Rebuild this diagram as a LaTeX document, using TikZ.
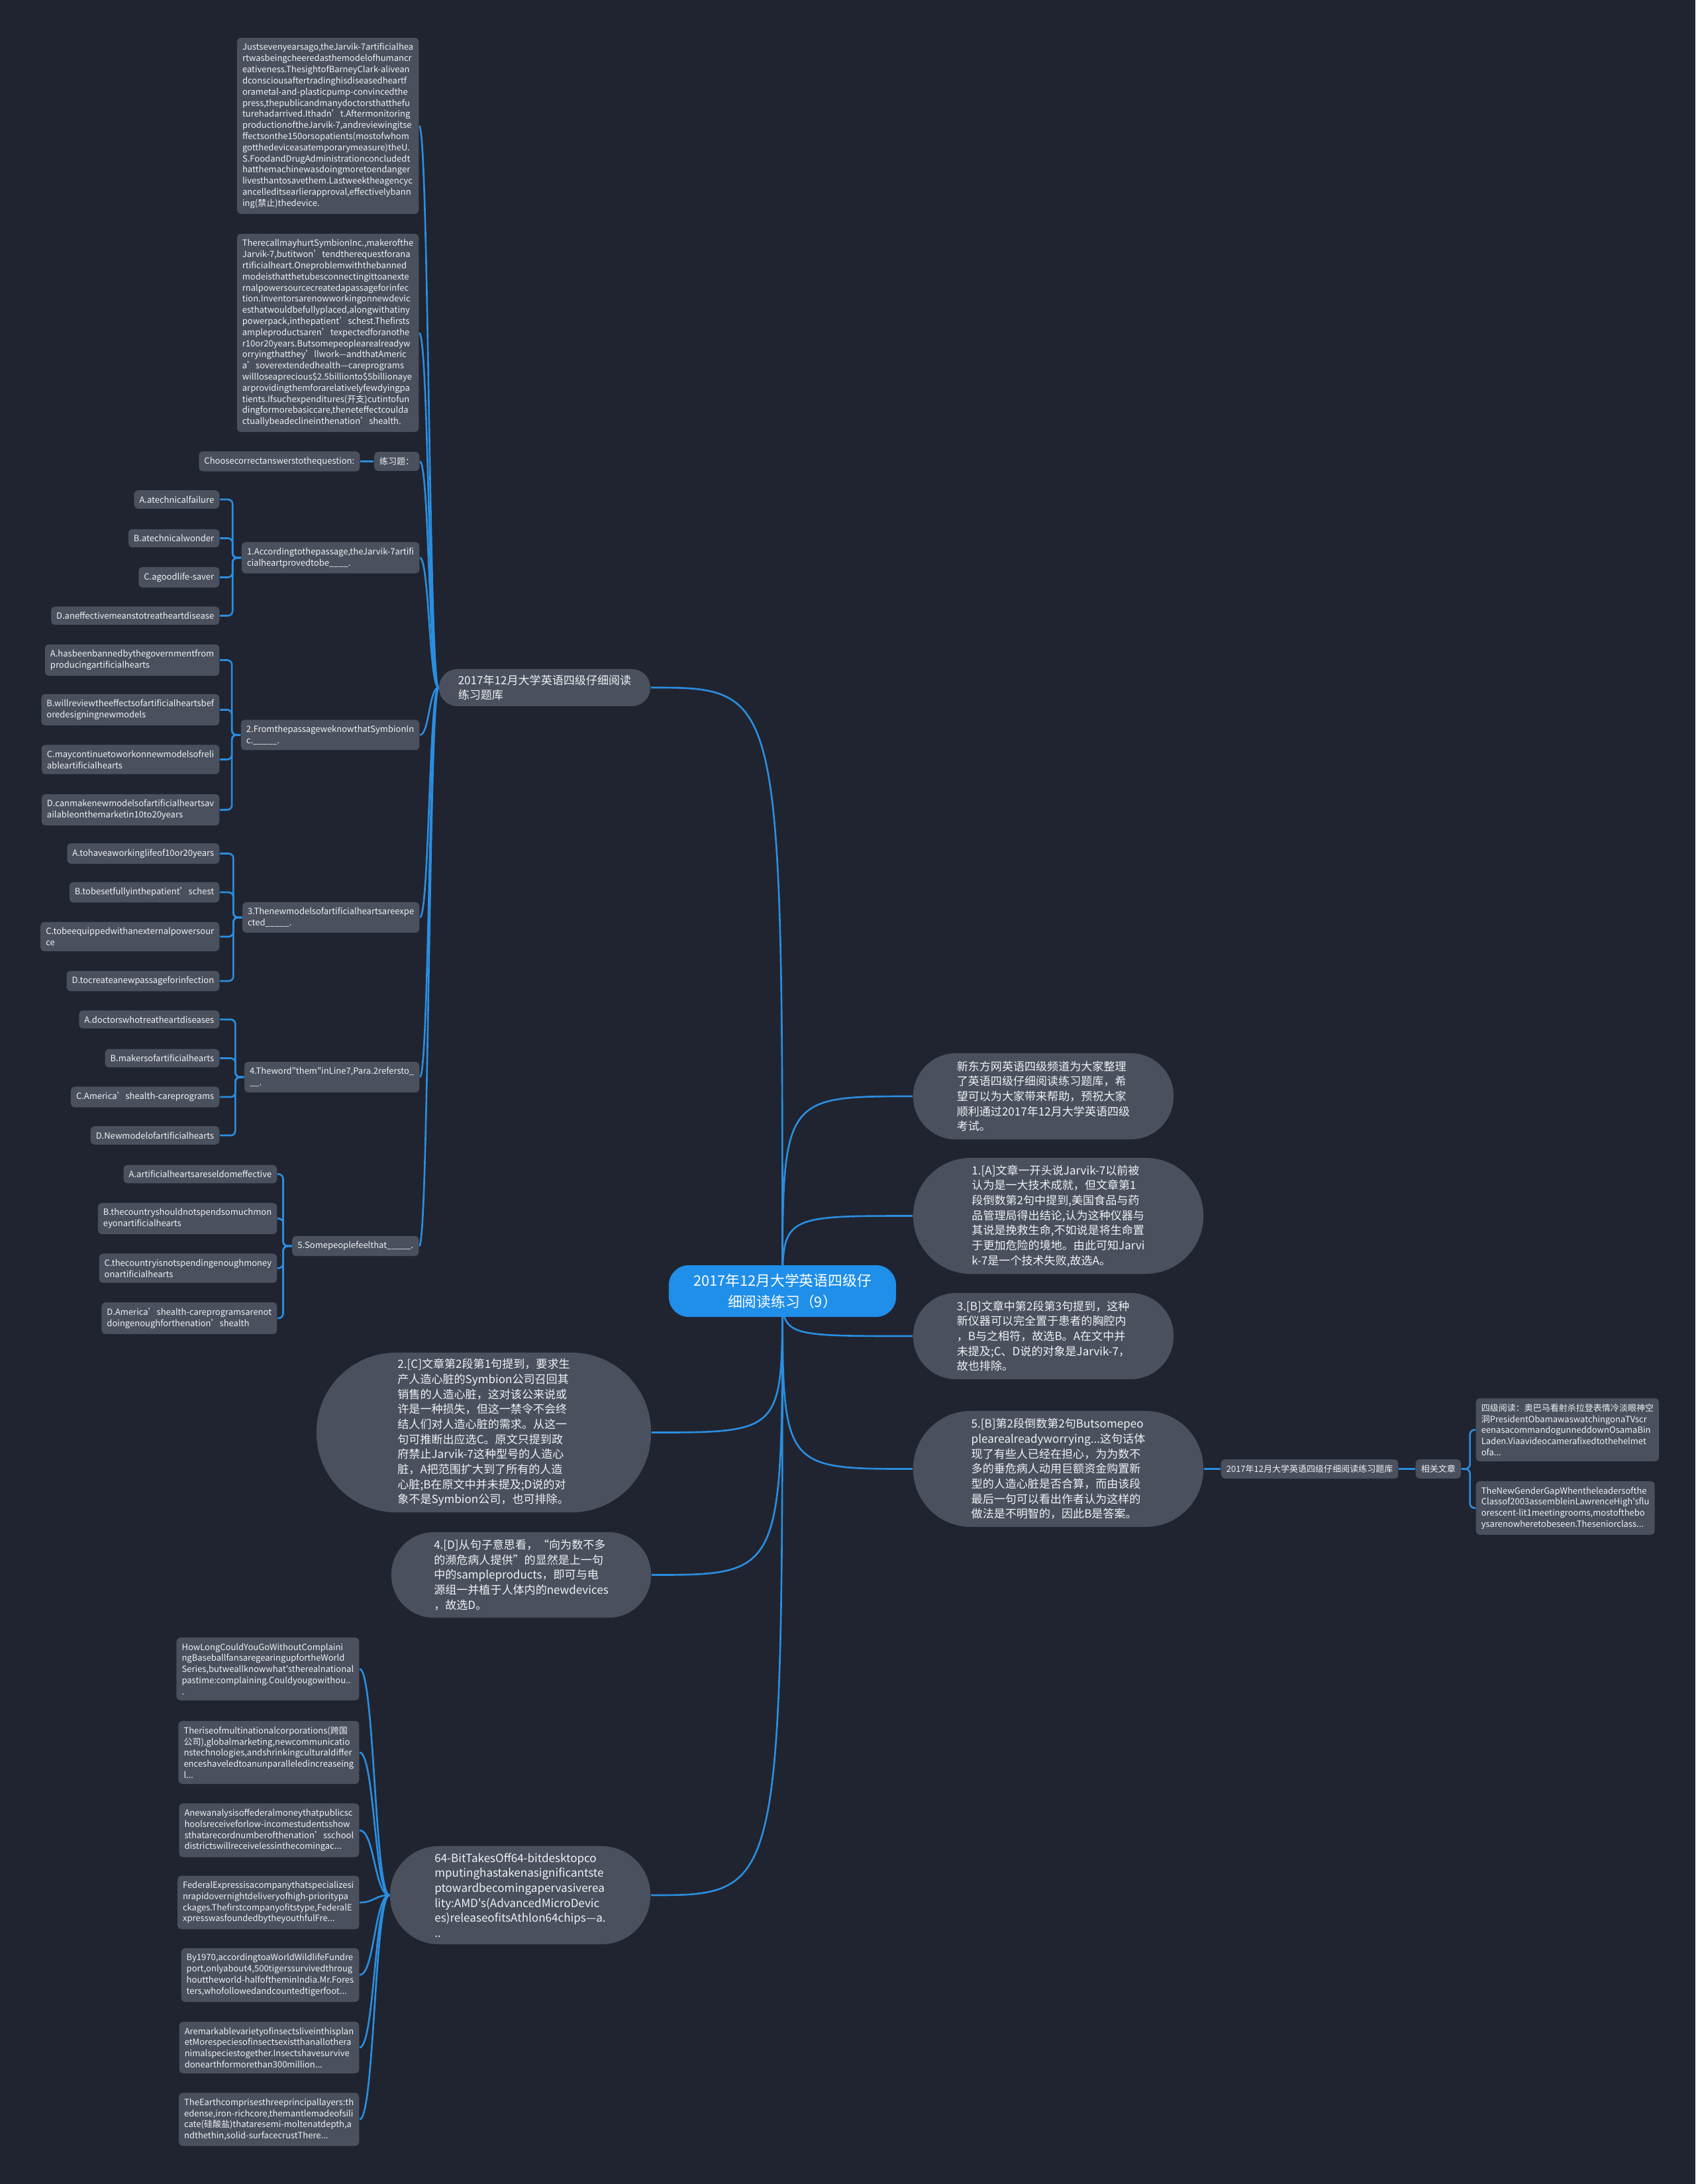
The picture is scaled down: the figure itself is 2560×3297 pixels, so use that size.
\documentclass[tikz,border=0pt]{standalone}
\usepackage{fontspec}
\setmainfont{Noto Sans CJK SC}[Ligatures=TeXOff]
\usetikzlibrary{calc}

\definecolor{pagebg}{HTML}{202430}
\definecolor{boxgray}{HTML}{4A505E}
\definecolor{linkblue}{HTML}{2A8EE0}
\definecolor{hubblue}{HTML}{1F8FEA}
\definecolor{txt}{HTML}{F0F2F5}

\pgfdeclarelayer{bg}
\pgfdeclarelayer{edges}
\pgfsetlayers{bg,edges,main}

\tikzset{
  leaf/.style={fill=boxgray, text=txt, rounded corners=1.6pt, align=left, inner xsep=2.3pt, inner ysep=2.4pt, font=\fontsize{3.7}{4.78}\selectfont},
  pill/.style={fill=boxgray, text=txt, align=left, inner sep=0pt, font=\fontsize{4.85}{6.45}\selectfont},
  link/.style={draw=linkblue, line width=0.75pt},
  fanline/.style={to path={let \p1=(\tikztostart), \p2=(\tikztotarget) in .. controls ({0.5*\x1+0.5*\x2},\y1) and ({0.5*\x1+0.5*\x2},\y2) .. (\tikztotarget)}},
  hubline/.style={to path={.. controls (\tikztostart |- \tikztotarget) and (\tikztostart |- \tikztotarget) .. (\tikztotarget)}},
  brace/.style={link, rounded corners=2pt},
}

\begin{document}
\begin{tikzpicture}[x=0.01cm, y=-0.01cm]
    \begin{pgfonlayer}{bg}
        \fill[pagebg] (0,0) rectangle (2560,3297);
    \end{pgfonlayer}
    \useasboundingbox (0,0) rectangle (2560,3297);

    % centre
    \node[fill=hubblue, text=white, rounded corners=0.3cm, minimum width=3.43cm, minimum height=0.78cm, inner sep=0pt, align=center, font=\fontsize{6.2}{9}\selectfont] (ctr) at (1181.5,1949) {2017年12月大学英语四级仔\\细阅读练习（9）};

    % left branch: passage and questions
    \node[pill, minimum width=3.19cm, minimum height=0.56cm, rounded corners=0.278cm] (bank) at (822.5,1038) {2017年12月大学英语四级仔细阅读\\练习题库};

    \node[leaf, anchor=east] (blk1) at (633,190) {Justsevenyearsago,theJarvik-7artificialhea\\rtwasbeingcheeredasthemodelofhumancr\\eativeness.ThesightofBarneyClark-alivean\\dconsciousaftertradinghisdiseasedheartf\\orametal-and-plasticpump-convincedthe\\press,thepublicandmanydoctorsthatthefu\\turehadarrived.Ithadn’t.Aftermonitoring\\productionoftheJarvik-7,andreviewingitse\\ffectsonthe150orsopatients(mostofwhom\\gotthedeviceasatemporarymeasure)theU.\\S.FoodandDrugAdministrationconcludedt\\hatthemachinewasdoingmoretoendanger\\livesthantosavethem.Lastweektheagencyc\\ancelleditsearlierapproval,effectivelybann\\ing(禁止)thedevice.};
    \node[leaf, anchor=east] (blk2) at (633,502.5) {TherecallmayhurtSymbionInc.,makerofthe\\Jarvik-7,butitwon’tendtherequestforana\\rtificialheart.Oneproblemwiththebanned\\modeisthatthetubesconnectingittoanexte\\rnalpowersourcecreatedapassageforinfec\\tion.Inventorsarenowworkingonnewdevic\\esthatwouldbefullyplaced,alongwithatiny\\powerpack,inthepatient’schest.Thefirsts\\ampleproductsaren’texpectedforanothe\\r10or20years.Butsomepeoplearealreadyw\\orryingthatthey’llwork—andthatAmeric\\a’soverextendedhealth—careprograms\\willloseaprecious\$2.5billionto\$5billionaye\\arprovidingthemforarelativelyfewdyingpa\\tients.Ifsuchexpenditures(开支)cutintofun\\dingformorebasiccare,theneteffectcoulda\\ctuallybeadeclineinthenation’shealth.};

    \node[leaf, anchor=east] (prac) at (634,696.5) {练习题：};
    \node[leaf, anchor=east] (choose) at (544,696.5) {Choosecorrectanswerstothequestion:};

    \node[leaf, anchor=east] (q1) at (634,842) {1.Accordingtothepassage,theJarvik-7artifi\\cialheartprovedtobe\_\_\_\_.};
    \node[leaf, anchor=east] (q1a) at (332,754) {A.atechnicalfailure};
    \node[leaf, anchor=east] (q1b) at (332,812.5) {B.atechnicalwonder};
    \node[leaf, anchor=east] (q1c) at (332,871.5) {C.agoodlife-saver};
    \node[leaf, anchor=east] (q1d) at (332,929.5) {D.aneffectivemeanstotreatheartdisease};

    \node[leaf, anchor=east] (q2) at (634,1109.5) {2.FromthepassageweknowthatSymbionIn\\c.\_\_\_\_\_.};
    \node[leaf, anchor=east] (q2a) at (332,996.5) {A.hasbeenbannedbythegovernmentfrom\\producingartificialhearts};
    \node[leaf, anchor=east] (q2b) at (332,1071.5) {B.willreviewtheeffectsofartificialheartsbef\\oredesigningnewmodels};
    \node[leaf, anchor=east] (q2c) at (332,1146.5) {C.maycontinuetoworkonnewmodelsofreli\\ableartificialhearts};
    \node[leaf, anchor=east] (q2d) at (332,1222.5) {D.canmakenewmodelsofartificialheartsav\\ailableonthemarketin10to20years};

    \node[leaf, anchor=east] (q3) at (634,1385) {3.Thenewmodelsofartificialheartsareexpe\\cted\_\_\_\_\_.};
    \node[leaf, anchor=east] (q3a) at (332,1288.5) {A.tohaveaworkinglifeof10or20years};
    \node[leaf, anchor=east] (q3b) at (332,1347) {B.tobesetfullyinthepatient’schest};
    \node[leaf, anchor=east] (q3c) at (332,1414) {C.tobeequippedwithanexternalpowersour\\ce};
    \node[leaf, anchor=east] (q3d) at (332,1481) {D.tocreateanewpassageforinfection};

    \node[leaf, anchor=east] (q4) at (634,1626) {4.Theword"them"inLine7,Para.2refersto\_\\\_\_.};
    \node[leaf, anchor=east] (q4a) at (332,1539) {A.doctorswhotreatheartdiseases};
    \node[leaf, anchor=east] (q4b) at (332,1597.5) {B.makersofartificialhearts};
    \node[leaf, anchor=east] (q4c) at (332,1656) {C.America’shealth-careprograms};
    \node[leaf, anchor=east] (q4d) at (332,1714) {D.Newmodelofartificialhearts};

    \node[leaf, anchor=east] (q5) at (633,1881) {5.Somepeoplefeelthat\_\_\_\_\_.};
    \node[leaf, anchor=east] (q5a) at (419,1772.5) {A.artificialheartsareseldomeffective};
    \node[leaf, anchor=east] (q5b) at (419,1839.5) {B.thecountryshouldnotspendsomuchmon\\eyonartificialhearts};
    \node[leaf, anchor=east] (q5c) at (419,1914.5) {C.thecountryisnotspendingenoughmoney\\onartificialhearts};
    \node[leaf, anchor=east] (q5d) at (419,1990) {D.America’shealth-careprogramsarenot\\doingenoughforthenation’shealth};

    % left branch: answers
    \node[pill, minimum width=5.05cm, minimum height=2.41cm, rounded corners=1.2cm] (ans2) at (730.5,2162.5) {2.[C]文章第2段第1句提到，要求生\\产人造心脏的Symbion公司召回其\\销售的人造心脏，这对该公来说或\\许是一种损失，但这一禁令不会终\\结人们对人造心脏的需求。从这一\\句可推断出应选C。原文只提到政\\府禁止Jarvik-7这种型号的人造心\\脏，A把范围扩大到了所有的人造\\心脏;B在原文中并未提及;D说的对\\象不是Symbion公司，也可排除。};
    \node[pill, minimum width=3.92cm, minimum height=1.29cm, rounded corners=0.64cm] (ans4) at (787,2377.5) {4.[D]从句子意思看，“向为数不多\\的濒危病人提供”的显然是上一句\\中的sampleproducts，即可与电\\源组一并植于人体内的newdevices\\，故选D。};
    \node[pill, minimum width=3.93cm, minimum height=1.48cm, rounded corners=0.735cm] (bit) at (785.5,2861) {64-BitTakesOff64-bitdesktopco\\mputinghastakenasignificantste\\ptowardbecomingapervasiverea\\lity:AMD's(AdvancedMicroDevic\\es)releaseofitsAthlon64chips—a.\\..};

    \node[leaf, anchor=east] (art1) at (543,2519.5) {HowLongCouldYouGoWithoutComplaini\\ngBaseballfansaregearingupfortheWorld\\Series,butweallknowwhat'stherealnational\\pastime:complaining.Couldyougowithou..\\.};
    \node[leaf, anchor=east] (art2) at (543,2645.5) {Theriseofmultinationalcorporations(跨国\\公司),globalmarketing,newcommunicatio\\nstechnologies,andshrinkingculturaldiffer\\enceshaveledtoanunparalleledincreaseing\\l...};
    \node[leaf, anchor=east] (art3) at (543,2763) {Anewanalysisoffederalmoneythatpublicsc\\hoolsreceiveforlow-incomestudentsshow\\sthatarecordnumberofthenation’sschool\\districtswillreceivelessinthecomingac...};
    \node[leaf, anchor=east] (art4) at (543,2872) {FederalExpressisacompanythatspecializesi\\nrapidovernightdeliveryofhigh-prioritypa\\ckages.Thefirstcompanyofitstype,FederalE\\xpresswasfoundedbytheyouthfulFre...};
    \node[leaf, anchor=east] (art5) at (543,2981.5) {By1970,accordingtoaWorldWildlifeFundre\\port,onlyabout4,500tigerssurvivedthroug\\houttheworld-halfoftheminIndia.Mr.Fores\\ters,whofollowedandcountedtigerfoot...};
    \node[leaf, anchor=east] (art6) at (543,3091) {Aremarkablevarietyofinsectsliveinthisplan\\etMorespeciesofinsectsexistthanallothera\\nimalspeciestogether.Insectshavesurvive\\donearthformorethan300million...};
    \node[leaf, anchor=east] (art7) at (543,3199.5) {TheEarthcomprisesthreeprincipallayers:th\\edense,iron-richcore,themantlemadeofsili\\cate(硅酸盐)thataresemi-moltenatdepth,a\\ndthethin,solid-surfacecrustThere...};

    % right branch
    \node[pill, minimum width=3.93cm, minimum height=1.30cm, rounded corners=0.645cm] (intro) at (1575.5,1655) {新东方网英语四级频道为大家整理\\了英语四级仔细阅读练习题库，希\\望可以为大家带来帮助，预祝大家\\顺利通过2017年12月大学英语四级\\考试。};
    \node[pill, minimum width=4.38cm, minimum height=1.75cm, rounded corners=0.87cm] (ans1) at (1598,1835.5) {1.[A]文章一开头说Jarvik-7以前被\\认为是一大技术成就，但文章第1\\段倒数第2句中提到,美国食品与药\\品管理局得出结论,认为这种仪器与\\其说是挽救生命,不如说是将生命置\\于更加危险的境地。由此可知Jarvi\\k-7是一个技术失败,故选A。};
    \node[pill, minimum width=3.93cm, minimum height=1.30cm, rounded corners=0.645cm] (ans3) at (1575.5,2017) {3.[B]文章中第2段第3句提到，这种\\新仪器可以完全置于患者的胸腔内\\，B与之相符，故选B。A在文中并\\未提及;C、D说的对象是Jarvik-7，\\故也排除。};
    \node[pill, minimum width=4.38cm, minimum height=1.75cm, rounded corners=0.87cm] (ans5) at (1598,2217.5) {5.[B]第2段倒数第2句Butsomepeo\\plearealreadyworrying...这句话体\\现了有些人已经在担心，为为数不\\多的垂危病人动用巨额资金购置新\\型的人造心脏是否合算，而由该段\\最后一句可以看出作者认为这样的\\做法是不明智的，因此B是答案。};

    \node[leaf, anchor=west] (bank2) at (1843,2217.5) {2017年12月大学英语四级仔细阅读练习题库};
    \node[leaf, anchor=west] (rel) at (2137,2217.5) {相关文章};
    \node[leaf, anchor=west] (rel1) at (2228,2158.5) {四级阅读：奥巴马看射杀拉登表情冷淡眼神空\\洞PresidentObamawaswatchingonaTVscr\\eenasacommandogunneddownOsamaBin\\Laden.Viaavideocamerafixedtothehelmet\\ofa...};
    \node[leaf, anchor=west] (rel2) at (2228,2276.5) {TheNewGenderGapWhentheleadersofthe\\Classof2003assembleinLawrenceHigh'sflu\\orescent-lit1meetingrooms,mostofthebo\\ysarenowheretobeseen.Theseniorclass...};

    \begin{pgfonlayer}{edges}
        \foreach \k in {bank, ans2, ans4, bit}
            \draw[link] (ctr.center) to[hubline] (\k.east);
        \foreach \k in {intro, ans1, ans3, ans5}
            \draw[link] (ctr.center) to[hubline] (\k.west);
        \foreach \k in {blk1, blk2, prac, q1, q2, q3, q4, q5}
            \draw[link] (bank.west) to[fanline] (\k.east);
        \foreach \k in {art1, art2, art3, art4, art5, art6, art7}
            \draw[link] (bit.west) to[fanline] (\k.east);
        \draw[link] (prac) -- (choose);
        \foreach \q in {q1, q2, q3, q4, q5}
            \foreach \o in {a, b, c, d}
                \draw[brace] (\q.west) -- ++(-13,0) |- (\q\o.east);
        \draw[link] (ans5) -- (bank2);
        \draw[link] (bank2) -- (rel);
        \draw[brace] (rel.east) -- ++(13,0) |- (rel1.west);
        \draw[brace] (rel.east) -- ++(13,0) |- (rel2.west);
    \end{pgfonlayer}
\end{tikzpicture}
\end{document}
